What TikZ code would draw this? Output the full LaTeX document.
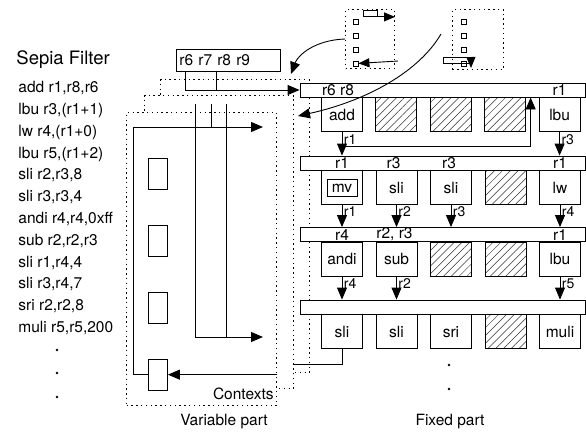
\documentclass[tikz,border=0pt]{standalone}
\usepackage{fontspec}
\setmainfont{TeX Gyre Heros}
\usetikzlibrary{positioning,arrows.meta,patterns.meta}

\begin{document}
\begin{tikzpicture}[x=1pt, y=-1pt, node distance=12.6pt, line width=0.9pt,
  font=\fontsize{15.5}{18}\selectfont,
  fu/.style={draw, fill=white, minimum width=41pt, minimum height=34pt, inner sep=0pt},
  hatch/.style={draw, minimum width=41pt, minimum height=34pt, inner sep=0pt,
    pattern={Lines[angle=45, distance=5.5pt, line width=0.5pt]}, pattern color=black!80},
  bar/.style={draw, fill=white, minimum width=285pt, minimum height=14pt, inner sep=0pt},
  reg/.style={inner sep=0pt},
  lab/.style={font=\fontsize{14}{15}\selectfont, anchor=west, inner sep=1.5pt, pos=0.3},
  ctx/.style={draw, fill=white, dash pattern=on 1.4pt off 3.4pt, line width=1pt, inner sep=0pt, anchor=north west},
  cell/.style={draw, minimum width=19pt, minimum height=31pt, inner sep=0pt},
  sq/.style={draw, minimum size=5pt, inner sep=0pt, line width=0.8pt},
  arr/.style={-{Triangle[length=12pt, width=10pt]}},
  sarr/.style={-{Triangle[length=11pt, width=9pt]}}]
\path[fill=white, use as bounding box] (0,0) rectangle (586,432);
% program listing
\node[anchor=base west, inner sep=0pt, font=\fontsize{18.5}{20}\selectfont] (title) at (16,64) {Sepia Filter};
\node[anchor=north west, align=left, inner sep=0pt, font=\fontsize{15.5}{21.8}\selectfont] (prog) at (18,81)
  {add r1,r8,r6\\lbu r3,(r1+1)\\lw r4,(r1+0)\\lbu r5,(r1+2)\\sli r2,r3,8\\sli r3,r3,4\\andi r4,r4,0xff\\sub r2,r2,r3\\sli r1,r4,4\\sli r3,r4,7\\sri r2,r2,8\\muli r5,r5,200};
\fill (57,350) circle (1.3); \fill (57,373) circle (1.3); \fill (57,397) circle (1.3);
% contexts (variable part)
\node[ctx, minimum width=149pt, minimum height=293pt] (ctxback) at (160,79) {};
\node[ctx, minimum width=149pt, minimum height=293pt] (ctxmid) at (144,95) {};
\node[ctx, minimum width=150pt, minimum height=293pt] (ctxfront) at (126,112) {};
\node[cell, anchor=north west] (c1) at (148,158) {};
\node[cell, below=35pt of c1] (c2) {};
\node[cell, below=35pt of c2] (c3) {};
\node[cell, below=35pt of c3] (c4) {};
\coordinate (pcout) at (263,127);
\coordinate (ra) at (195,104); \coordinate (rb) at (211,104); \coordinate (rc) at (226,104);
\coordinate (rout) at (263,337);
\draw[arr] (c4.west) -- ++(-15,0) |- (pcout);
\draw (rb) -- (rb |- pcout);
\draw[arr] (ra) |- (rout);
\draw (rc) -- (rc |- rout);
\draw[arr] (ctxfront.east |- c4) -- (c4.east);
\node[anchor=base east, inner sep=0pt] (ctxname) at (274,399) {Contexts};
% register file
\node[draw, fill=white, anchor=north west, text width=98pt, inner xsep=3pt, inner ysep=0pt,
  minimum height=22pt, align=left] (regs) at (176,49) {r6 r7 r8 r9};
\coordinate (rw1) at ([xshift=9pt]regs.south west);
\coordinate (rw2) at ([xshift=40pt]regs.south west);
% fixed part
\node[bar] (bar1) at (442.5,90) {};
\node[bar] (bar2) at (442.5,163) {};
\node[bar] (bar3) at (442.5,234.5) {};
\node[bar] (bar4) at (442.5,307) {};
\draw[arr] (rw1) |- (bar1.west);
\draw (rw2) -- (rw2 |- bar1.west);
\node[fu, anchor=north] (u11) at ([xshift=-100.5pt]bar1.south) {add};
\node[hatch, right=of u11] (u12) {};
\node[hatch, right=of u12] (u13) {};
\node[hatch, right=of u13] (u14) {};
\node[fu, right=of u14] (u15) {lbu};
\node[fu, anchor=north] (u21) at (u11 |- bar2.south) {};
\node[draw, minimum width=30pt, minimum height=17pt, inner sep=0pt] (mv) at (u21) {mv};
\node[fu, right=of u21] (u22) {sli};
\node[fu, right=of u22] (u23) {sli};
\node[hatch, right=of u23] (u24) {};
\node[fu, right=of u24] (u25) {lw};
\node[fu, anchor=north] (u31) at (u11 |- bar3.south) {andi};
\node[fu, right=of u31] (u32) {sub};
\node[hatch, right=of u32] (u33) {};
\node[hatch, right=of u33] (u34) {};
\node[fu, right=of u34] (u35) {lbu};
\node[fu, anchor=north] (u41) at (u11 |- bar4.south) {sli};
\node[fu, right=of u41] (u42) {sli};
\node[fu, right=of u42] (u43) {sri};
\node[hatch, right=of u43] (u44) {};
\node[fu, right=of u44] (u45) {muli};
% registers on the bars
\node[reg, xshift=-4pt] (b11) at (u11 |- bar1) {r6 r8};
\node[reg] (b15) at (u15 |- bar1) {r1};
\node[reg] (b21) at (u21 |- bar2) {r1};
\node[reg, xshift=-3pt] (b22) at (u22 |- bar2) {r3};
\node[reg, xshift=-2pt] (b23) at (u23 |- bar2) {r3};
\node[reg] (b25) at (u25 |- bar2) {r1};
\node[reg] (b31) at (u31 |- bar3) {r4};
\node[reg, xshift=-2pt] (b32) at (u32 |- bar3) {r2, r3};
\node[reg] (b35) at (u35 |- bar3) {r1};
% results
\draw[arr] (u11) -- node[lab] (l11) {r1} (u11 |- bar2.north);
\draw[arr] (u15) -- node[lab] (l15) {r3} (u15 |- bar2.north);
\coordinate (fb) at ([yshift=-14pt]u11.south);
\coordinate (fbx) at ([xshift=-8pt]u15.north west);
\draw[arr] (fb) -| (fbx);
\draw[arr] (u21) -- node[lab] (l21) {r1} (u21 |- bar3.north);
\draw[arr] (u22) -- node[lab] (l22) {r2} (u22 |- bar3.north);
\draw[arr] (u23) -- node[lab] (l23) {r3} (u23 |- bar3.north);
\draw[arr] (u25) -- node[lab] (l25) {r4} (u25 |- bar3.north);
\draw[arr] (u31) -- node[lab] (l31) {r4} (u31 |- bar4.north);
\draw[arr] (u32) -- node[lab] (l32) {r2} (u32 |- bar4.north);
\draw[arr] (u35) -- node[lab] (l35) {r5} (u35 |- bar4.north);
\coordinate (ret) at ([yshift=-15pt]u41.south);
\draw (u41.south) -- (ret) -- (ret -| ctxmid.east);
\fill (449,365) circle (1.3); \fill (449,389) circle (1.3);
% context icons
\node[ctx, minimum width=49pt, minimum height=59pt] (ico1) at (345,9) {};
\node[ctx, minimum width=51pt, minimum height=60pt] (ico2) at (452,9) {};
\node[sq] (s11) at ([xshift=10.5pt, yshift=-13pt]ico1.north west) {};
\node[sq, below=8pt of s11] (s12) {};
\node[sq, below=8pt of s12] (s13) {};
\node[sq, below=8pt of s13] (s14) {};
\node[sq] (s21) at ([xshift=11.5pt, yshift=-13pt]ico2.north west) {};
\node[sq, below=8pt of s21] (s22) {};
\node[sq, below=8pt of s22] (s23) {};
\node[sq, below=8pt of s23] (s24) {};
\node[draw, anchor=north west, minimum width=14pt, minimum height=6.5pt, inner sep=0pt] (t1) at (363,9.5) {};
\draw[sarr] (t1.south east) -- (t1.south east -| ico1.east);
\coordinate (i1in) at (398,61);
\draw[sarr] (i1in) -- (s14.east);
\node[draw, anchor=north west, minimum width=27pt, minimum height=5.5pt, inner sep=0pt] (t2) at (443,57) {};
\coordinate (i2out) at (471,68);
\draw[sarr] (t2.north east) -- (i2out);
\coordinate (cv1e) at (291,74);
\draw[arr] (ico1.west) .. controls (315,40) and (298,55) .. (cv1e);
\coordinate (cv2s) at (441,34);
\coordinate (cv2e) at (298,116);
\draw[arr] (cv2s) .. controls (420,70) and (370,100) .. (cv2e);
% captions
\node[anchor=base, inner sep=0pt] (varlab) at (224,425) {Variable part};
\node[anchor=base, inner sep=0pt] (fixlab) at (450,425) {Fixed part};
\end{tikzpicture}
\end{document}
